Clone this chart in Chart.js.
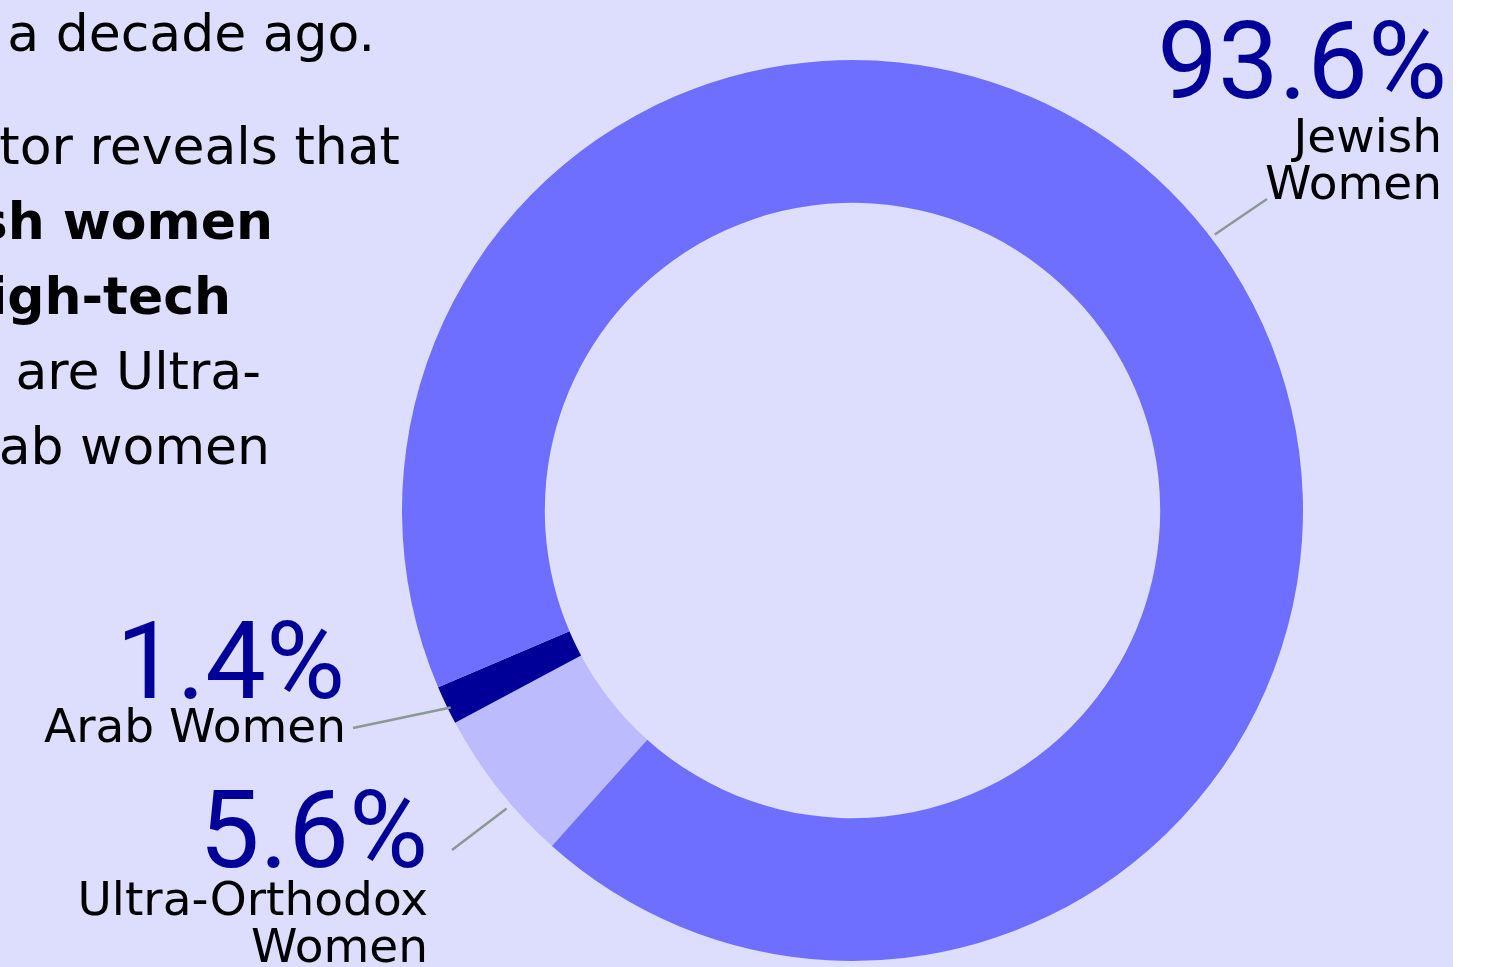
<!DOCTYPE html>
<html>
<head>
<meta charset="utf-8">
<title>Women in high-tech</title>
<script src="https://cdn.jsdelivr.net/npm/chart.js@4.4.1/dist/chart.umd.min.js"></script>
<style>
  html, body { margin: 0; padding: 0; background: #fff; }
  #panel {
    position: absolute; left: 0; top: 0;
    width: 1453px; height: 967px;
    background: #DDDDFD; overflow: hidden;
  }
  .line {
    position: absolute; white-space: nowrap;
    font-family: "DejaVu Sans", sans-serif; font-size: 52px; line-height: 75px;
    color: #000;
  }
  .line.bold { font-weight: bold; }
  #wrap { position: absolute; left: 0; top: 0; width: 1500px; height: 967px; }
</style>
</head>
<body>
<div id="panel">
  <!-- intro copy, runs off the left edge -->
  <div class="line" style="right:1078px; top:-4px">a decade ago.</div>
  <div class="line" style="right:1053px; top:109px">tor reveals that</div>
  <div class="line bold" style="right:1180px; top:184px">sh women</div>
  <div class="line bold" style="right:1222px; top:259px">high-tech</div>
  <div class="line" style="right:1192px; top:334px">are Ultra-</div>
  <div class="line" style="right:1183px; top:409px">ab women</div>
</div>
<div id="wrap"><canvas id="donut" width="1500" height="967"></canvas></div>

<script>
  // slices go clockwise starting from the Ultra-Orthodox segment
  const categories = ['Ultra-Orthodox Women', 'Arab Women', 'Jewish Women'];
  const nameLines = [['Ultra-Orthodox', 'Women'], ['Arab Women'], ['Jewish', 'Women']];
  const shares = [5.6, 1.4, 93.6];
  const sliceColors = ['#BBBBFE', '#000099', '#6F6FFF'];

  // where each callout sits: point along the arc, leader end, text block
  const callouts = [
    { at: 0.37, gap: 6,  lineEnd: [452, 850], pctRight: 428,  pctBase: 867, nameRight: 428,  nameBase: 915 },
    { at: 0.40, gap: -3, lineEnd: [353, 728], pctRight: 345,  pctBase: 698, nameRight: 346,  nameBase: 742 },
    { at: 0.495, gap: 5, lineEnd: [1267, 199], pctRight: 1447, pctBase: 98, nameRight: 1442, nameBase: 152 }
  ];

  const calloutPlugin = {
    id: 'callouts',
    afterDatasetsDraw(chart) {
      const ctx = chart.ctx;
      const arcs = chart.getDatasetMeta(0).data;
      arcs.forEach(function (arc, i) {
        const p = arc.getProps(['x', 'y', 'startAngle', 'endAngle', 'outerRadius'], true);
        const c = callouts[i];
        const a = p.startAngle + (p.endAngle - p.startAngle) * c.at;
        const r = p.outerRadius + c.gap;

        ctx.save();
        // leader line
        ctx.strokeStyle = '#8A9995';
        ctx.lineWidth = 2.5;
        ctx.beginPath();
        ctx.moveTo(p.x + Math.cos(a) * r, p.y + Math.sin(a) * r);
        ctx.lineTo(c.lineEnd[0], c.lineEnd[1]);
        ctx.stroke();

        // big percentage
        ctx.textAlign = 'right';
        ctx.textBaseline = 'alphabetic';
        ctx.fillStyle = '#000099';
        ctx.font = '400 108px Roboto';
        ctx.fillText(shares[i].toFixed(1) + '%', c.pctRight, c.pctBase);

        // group name
        ctx.fillStyle = '#000';
        ctx.font = '47px "DejaVu Sans"';
        nameLines[i].forEach(function (t, k) {
          ctx.fillText(t, c.nameRight, c.nameBase + k * 47);
        });
        ctx.restore();
      });
    }
  };

  const ctx = document.getElementById('donut').getContext('2d');
  const donut = new Chart(ctx, {
    type: 'doughnut',
    data: {
      labels: categories,
      datasets: [{
        data: shares,
        backgroundColor: sliceColors,
        borderWidth: 0,
        hoverBorderWidth: 0,
        hoverOffset: 0
      }]
    },
    options: {
      responsive: false,
      devicePixelRatio: 1,
      animation: false,
      cutout: '68.3%',
      rotation: 221.85,
      layout: { padding: { left: 402, top: 60, right: 197, bottom: 6 } },
      plugins: {
        legend: { display: false },
        tooltip: { enabled: false }
      }
    },
    plugins: [calloutPlugin]
  });
</script>
</body>
</html>
